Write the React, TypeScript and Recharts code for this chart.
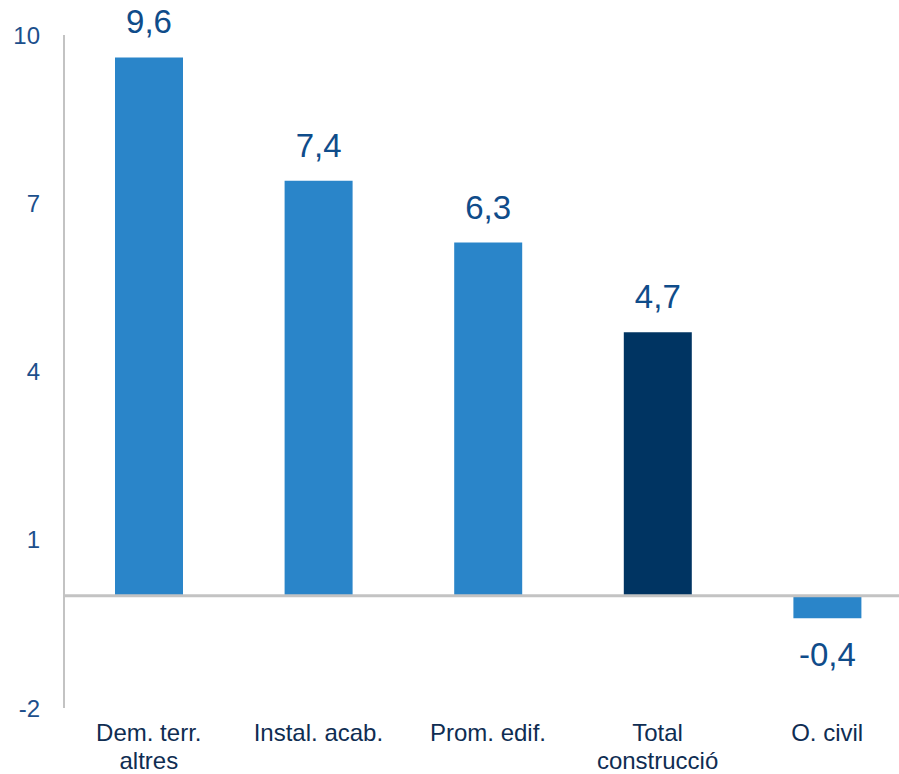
import { Bar, BarChart, Cell, LabelList, ReferenceLine, XAxis, YAxis } from "recharts";

const categories = ["Dem. terr.|altres", "Instal. acab.", "Prom. edif.", "Total|construcció", "O. civil"];
const values = [9.6, 7.4, 6.3, 4.7, -0.4];
const barColors = ["#2a85c9", "#2a85c9", "#2a85c9", "#003462", "#2a85c9"];
const yTicks = [-2, 1, 4, 7, 10];

const data = categories.map((name, i) => ({ name, value: values[i] }));

const FONT = '"Liberation Sans", Arial, sans-serif';

function CategoryTick(props: any) {
  const { x, y, payload } = props;
  const lines = String(payload.value).split("|");
  return (
    <text x={x} y={y} textAnchor="middle" fill="#0f2d52" fontSize={24} fontFamily={FONT}>
      {lines.map((line, i) => (
        <tspan key={i} x={x} dy={i === 0 ? 25 : 28}>
          {line}
        </tspan>
      ))}
    </text>
  );
}

function ValueTick(props: any) {
  const { y, payload } = props;
  return (
    <text x={40} y={y} textAnchor="end" dominantBaseline="central" fill="#1c4f8c" fontSize={24} fontFamily={FONT}>
      {payload.value}
    </text>
  );
}

function ValueLabel(props: any) {
  const { x, y, width, height, value } = props;
  const top = Math.min(y, y + height);
  const bottom = Math.max(y, y + height);
  const cx = x + width / 2;
  const text = String(value).replace(".", ",");
  return (
    <text
      x={cx}
      y={value >= 0 ? top - 24 : bottom + 48}
      textAnchor="middle"
      fill="#0f4c8a"
      fontSize={33}
      fontFamily={FONT}
    >
      {text}
    </text>
  );
}

export default function App() {
  return (
    <div style={{ position: "absolute", left: 0, top: 0, width: 899, height: 774, overflow: "hidden", background: "#fff" }}>
      <BarChart width={912} height={774} data={data} margin={{ top: 35, right: 0, bottom: 0, left: 0 }}>
        <XAxis dataKey="name" axisLine={false} tickLine={false} height={66} tick={<CategoryTick />} interval={0} />
        <YAxis
          domain={[-2, 10]}
          ticks={yTicks}
          width={64}
          tickLine={false}
          axisLine={{ stroke: "#c3c3c3", strokeWidth: 2 }}
          tick={<ValueTick />}
          allowDataOverflow
        />
        <ReferenceLine y={0} stroke="#c3c3c3" strokeWidth={3} />
        <Bar dataKey="value" barSize={68} isAnimationActive={false}>
          {data.map((d, i) => (
            <Cell key={d.name} fill={barColors[i]} />
          ))}
          <LabelList dataKey="value" content={<ValueLabel />} />
        </Bar>
      </BarChart>
    </div>
  );
}
